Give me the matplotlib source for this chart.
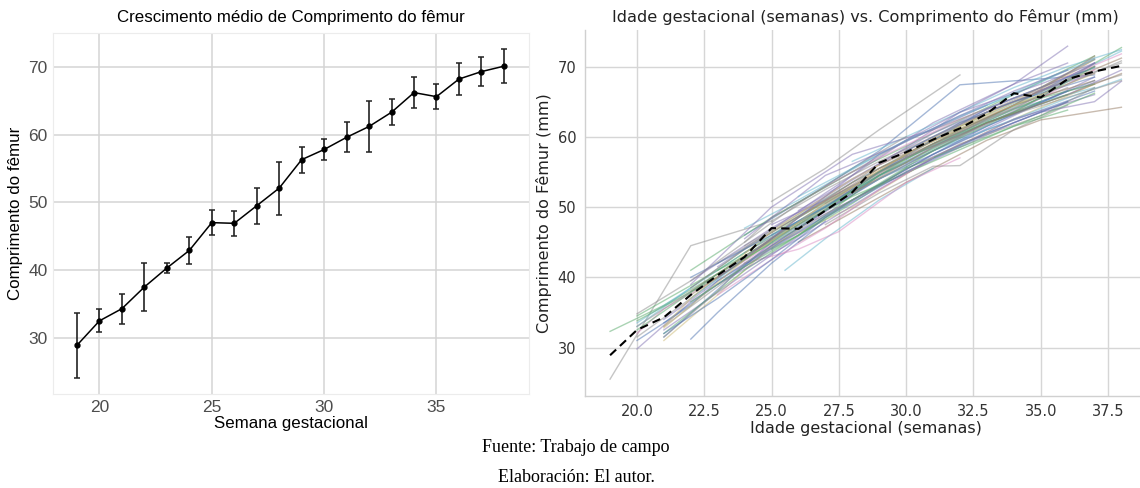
import matplotlib
matplotlib.use("Agg")
import matplotlib.pyplot as plt

# ---------------- data ----------------
semanas = [19, 20, 21, 22, 23, 24, 25, 26, 27, 28, 29, 30, 31, 32, 33, 34, 35, 36, 37, 38]
femur_medio = [28.9, 32.5, 34.3, 37.5, 40.3, 42.9, 47.0, 46.9, 49.5, 52.1,
               56.3, 57.8, 59.6, 61.2, 63.3, 66.2, 65.6, 68.2, 69.3, 70.1]
femur_dp = [4.8, 1.7, 2.2, 3.5, 0.7, 2.0, 1.85, 1.8, 2.65, 3.9,
            1.9, 1.6, 2.2, 3.7, 1.9, 2.3, 1.85, 2.3, 2.1, 2.5]

# individual fetuses (weeks, femur length in mm)
fetos_semanas = [
    [19, 22, 25],
    [19, 21, 23, 25, 27, 29],
    [25, 27, 29, 32],
    [23, 27, 31, 34, 36],
    [26, 30, 33, 35, 38],
    [25.5, 27, 29, 31],
    [22, 23, 25, 27],
    [21, 23, 25, 28, 31, 34, 37],
    [20, 22, 25, 28, 31, 34, 37],
    [24, 26, 27.5, 30, 32],
    [27, 29, 31, 32, 34, 36],
    [21, 24, 27, 30, 33, 35, 37, 38],
    [24, 27, 29, 32, 37],
    [20, 22, 24, 26, 28, 30, 32, 34, 36, 38],
    [20, 23, 26, 29, 32, 35, 38],
    [21, 24, 27, 30, 33, 36],
    [22, 25, 28, 31, 34, 37],
    [20, 22, 25, 28, 30, 33, 36, 38],
    [21, 23, 26, 29, 32, 35, 37],
    [22, 24, 27, 30, 33, 36, 38],
    [20, 24, 28, 32, 36],
    [21, 25, 29, 33, 37],
    [23, 26, 29, 32, 35, 37],
    [22, 25, 27, 30, 32, 34, 36],
    [20, 21, 23, 26, 29, 31, 34, 37],
    [24, 26, 28, 31, 34, 37],
    [25, 27, 30, 33, 36, 38],
    [21, 23, 25, 27, 29, 31, 33, 35, 37],
    [22, 26, 30, 34, 37],
    [20, 23, 27, 31, 35, 37],
    [23, 25, 28, 31, 34, 36, 38],
    [21, 24, 26, 29, 33, 36],
    [24, 27, 30, 32, 35, 37],
    [26, 28, 31, 34, 37],
    [22, 24, 27, 29, 32, 34, 37],
    [25, 28, 31, 33, 36, 38],
    [20, 22, 23, 26, 28, 31, 33, 36],
    [21, 22, 25, 28, 30, 34, 36],
    [23, 26, 29, 31, 34, 37],
    [27, 29, 32, 35, 38],
    [24, 25, 28, 30, 33, 35, 37],
    [26, 29, 32, 34, 36],
    [22, 25, 27, 29, 31, 33, 36, 37],
    [28, 30, 32, 34, 36, 38],
    [23, 24, 26, 28, 31, 34, 36],
    [21, 23, 24, 27, 30, 32, 35, 37],
    [25, 26, 28, 30, 33, 35, 37],
    [20, 24, 28, 33, 38],
    [29, 31, 33, 35, 37],
    [22, 24, 26, 29, 31, 34, 36, 37],
    [24, 26, 29, 32, 34, 36],
    [30, 32, 34, 37],
    [21, 22, 24, 27, 30, 33, 37],
    [22, 25, 28, 31, 33],
    [23, 25, 27, 29, 31],
    [20, 22, 24, 26, 28, 30],
    [24, 27, 29.5, 32, 35, 37],
    [21, 23, 25, 27, 30, 33, 36],
    [26, 28, 30, 33, 35, 37],
    [22, 24, 26, 28, 31, 34, 37],
    [25, 27, 29, 31, 33, 35, 37],
    [20, 23, 26, 29, 32, 35],
    [27, 30, 33, 36, 38],
    [23, 25, 27, 29, 32, 34, 36],
    [28, 31, 33, 36, 38],
]
fetos_femur = [
    [25.5, 44.5, 48.0],
    [32.3, 36.0, 40.5, 45.5, 50.0, 54.5],
    [50.8, 55.5, 61.0, 68.8],
    [41.5, 52.0, 62.0, 67.5, 72.9],
    [45.0, 53.5, 59.5, 62.4, 64.2],
    [41.0, 45.5, 51.0, 55.5],
    [31.2, 35.0, 42.0, 48.0],
    [31.0, 37.5, 44.5, 50.0, 57.0, 62.5, 67.5],
    [29.8, 36.5, 44.0, 51.0, 57.5, 63.0, 68.5],
    [42.0, 44.0, 46.5, 53.5, 57.0],
    [47.5, 52.0, 55.8, 55.9, 61.0, 64.5],
    [32.5, 40.5, 48.5, 55.5, 60.5, 63.5, 65.0, 67.9],
    [46.0, 53.0, 58.0, 67.4, 68.8],
    [33.5, 38.5, 43.5, 48.0, 52.5, 56.5, 60.5, 64.5, 68.5, 72.2],
    [34.5, 41.0, 48.5, 55.0, 61.0, 66.0, 72.7],
    [33.0, 41.5, 49.5, 57.0, 62.5, 67.0],
    [41.0, 48.5, 55.0, 60.5, 66.0, 71.5],
    [31.5, 37.0, 45.5, 52.5, 57.0, 62.0, 66.5, 68.8],
    [34.0, 39.5, 47.0, 54.0, 60.0, 65.5, 70.5],
    [38.0, 43.0, 50.5, 57.5, 63.5, 68.0, 71.2],
    [33.0, 44.0, 53.5, 61.5, 68.0],
    [31.5, 45.0, 54.0, 61.0, 66.5],
    [40.5, 47.5, 55.5, 61.5, 66.5, 71.0],
    [39.5, 47.0, 51.5, 58.5, 63.5, 67.5, 70.5],
    [32.0, 35.5, 40.0, 47.0, 54.5, 58.5, 63.5, 69.5],
    [44.5, 49.0, 53.5, 59.5, 64.5, 70.0],
    [47.5, 51.0, 57.0, 62.0, 66.0, 69.5],
    [33.5, 39.0, 44.5, 49.5, 54.5, 58.0, 61.5, 65.0, 68.0],
    [37.0, 48.0, 56.5, 64.0, 67.0],
    [33.8, 40.0, 50.0, 59.0, 65.5, 67.5],
    [42.0, 46.5, 53.0, 59.0, 64.0, 68.0, 70.5],
    [32.0, 41.0, 46.0, 54.5, 62.0, 66.0],
    [43.5, 50.0, 57.5, 62.0, 66.5, 70.0],
    [49.5, 54.0, 60.5, 65.5, 69.0],
    [38.5, 44.0, 51.0, 56.0, 61.0, 64.5, 68.0],
    [46.0, 52.0, 58.0, 61.0, 65.5, 68.2],
    [31.0, 36.0, 39.5, 46.5, 51.0, 57.5, 61.5, 66.5],
    [33.0, 37.0, 46.5, 54.0, 58.0, 65.0, 69.0],
    [39.0, 45.5, 52.5, 57.0, 62.5, 66.0],
    [53.0, 57.0, 62.5, 67.0, 71.8],
    [45.0, 48.5, 55.0, 59.5, 64.0, 67.0, 71.2],
    [47.0, 53.0, 58.5, 62.0, 65.0],
    [40.0, 46.0, 50.0, 55.0, 59.5, 64.0, 68.5, 69.8],
    [56.5, 60.0, 63.5, 67.0, 70.0, 72.4],
    [41.0, 43.0, 47.5, 51.5, 56.5, 61.5, 63.8],
    [31.5, 38.0, 42.0, 49.0, 55.0, 59.0, 63.0, 67.0],
    [44.0, 46.0, 50.5, 55.5, 60.0, 63.0, 66.2],
    [33.0, 43.0, 52.0, 62.0, 68.0],
    [56.0, 60.0, 63.5, 66.5, 70.5],
    [37.5, 42.5, 48.5, 55.5, 59.0, 64.5, 69.0, 71.5],
    [47.0, 51.0, 57.5, 63.0, 66.0, 69.5],
    [58.0, 62.0, 65.0, 68.5],
    [32.8, 36.0, 42.5, 50.5, 57.5, 63.0, 69.0],
    [39.0, 50.0, 57.5, 61.0, 64.5],
    [37.5, 42.5, 47.0, 52.5, 57.0],
    [34.8, 39.5, 45.0, 50.5, 55.5, 60.0],
    [45.5, 54.5, 58.5, 63.5, 67.5, 70.5],
    [32.0, 37.0, 42.5, 48.5, 55.0, 60.5, 65.0],
    [51.5, 55.5, 59.5, 64.5, 68.0, 71.0],
    [36.5, 41.5, 46.0, 51.0, 58.0, 63.5, 70.0],
    [48.0, 52.5, 56.5, 60.0, 63.5, 67.0, 71.0],
    [32.5, 40.5, 47.0, 55.0, 60.5, 65.0],
    [50.5, 57.0, 62.5, 67.5, 70.8],
    [40.0, 45.5, 51.5, 57.5, 63.0, 66.5, 69.5],
    [52.0, 58.5, 62.0, 66.0, 69.0],
]

titulo_esq = "Crescimento médio de Comprimento do fêmur"
xlabel_esq = "Semana gestacional"
ylabel_esq = "Comprimento do fêmur"
titulo_dir = "Idade gestacional (semanas) vs. Comprimento do Fêmur (mm)"
xlabel_dir = "Idade gestacional (semanas)"
ylabel_dir = "Comprimento do Fêmur (mm)"
fonte = "Fuente: Trabajo de campo"
elaboracao = "Elaboración: El autor."

# ---------------- figure ----------------
W, H = 1140, 488
fig = plt.figure(figsize=(W / 100, H / 100), dpi=100)
fig.patch.set_facecolor("white")

def px_axes(x0, x1, y0, y1):
    return [x0 / W, 1 - y1 / H, (x1 - x0) / W, (y1 - y0) / H]

# ---- left panel (ggplot-like) ----
axL = fig.add_axes(px_axes(53.4, 528.6, 33, 394))
lfont = "Liberation Sans"
axL.errorbar(semanas, femur_medio, yerr=femur_dp, fmt="-o", color="black",
             ms=3.5, lw=1.1, elinewidth=1.2, ecolor="#222222", capsize=2.2,
             capthick=1.1, zorder=3)
axL.set_xlim(17.95, 39.1)
axL.set_ylim(21.7, 75.0)
axL.set_xticks([20, 25, 30, 35])
axL.set_yticks([30, 40, 50, 60, 70])
axL.grid(True, color="#d4d4d4", lw=1.1)
axL.set_axisbelow(True)
for s in axL.spines.values():
    s.set_color("#ececec")
    s.set_linewidth(0.8)
axL.tick_params(length=0, labelsize=12.5, labelcolor="#4d4d4d", pad=4)
for lab in axL.get_xticklabels() + axL.get_yticklabels():
    lab.set_fontfamily(lfont)
axL.set_title(titulo_esq, fontsize=12.2, family=lfont, pad=8)
axL.set_xlabel(xlabel_esq, fontsize=12.2, family=lfont, labelpad=1)
axL.set_ylabel(ylabel_esq, fontsize=12.2, family=lfont, labelpad=4)

# ---- right panel (seaborn whitegrid-like) ----
axR = fig.add_axes(px_axes(584.5, 1147, 30, 396))
paleta = ["#8c8c8c", "#55a868", "#8c8c8c", "#8172b3", "#937860",
          "#64b5cd", "#4c72b0", "#ccb974", "#8172b3", "#da8bc3",
          "#8c8c8c", "#8172b3", "#4c72b0", "#64b5cd", "#55a868"]
for i, (xs, ys) in enumerate(zip(fetos_semanas, fetos_femur)):
    axR.plot(xs, ys, color=paleta[i % len(paleta)], lw=1.0, alpha=0.5, zorder=2)
axR.plot(semanas, femur_medio, color="black", ls="--", lw=1.5, zorder=4,
         dashes=(4, 2.5))
axR.set_xlim(18.05, 38.95)
axR.set_ylim(23.1, 75.2)
axR.set_xticks([20.0, 22.5, 25.0, 27.5, 30.0, 32.5, 35.0, 37.5])
axR.set_xticklabels(["20.0", "22.5", "25.0", "27.5", "30.0", "32.5", "35.0", "37.5"])
axR.set_yticks([30, 40, 50, 60, 70])
axR.grid(True, color="#d6d6d6", lw=1.0)
axR.set_axisbelow(True)
for k in ["top", "right"]:
    axR.spines[k].set_visible(False)
for k in ["left", "bottom"]:
    axR.spines[k].set_color("#d0d0d0")
    axR.spines[k].set_linewidth(1.0)
axR.tick_params(length=0, labelsize=10.5, labelcolor="#333333", pad=6)
axR.set_title(titulo_dir, fontsize=11.6, pad=6, color="#222222")
axR.set_xlabel(xlabel_dir, fontsize=11.5, labelpad=1, color="#222222")
axR.set_ylabel(ylabel_dir, fontsize=11.5, labelpad=4, color="#222222")

# ---- footer ----
fig.text(576 / W, 1 - 447 / H, fonte, ha="center", va="center",
         family="Liberation Serif", fontsize=13)
fig.text(576 / W, 1 - 478 / H, elaboracao, ha="center", va="center",
         family="Liberation Serif", fontsize=13)

fig.savefig("out.png", dpi=100, facecolor="white")
